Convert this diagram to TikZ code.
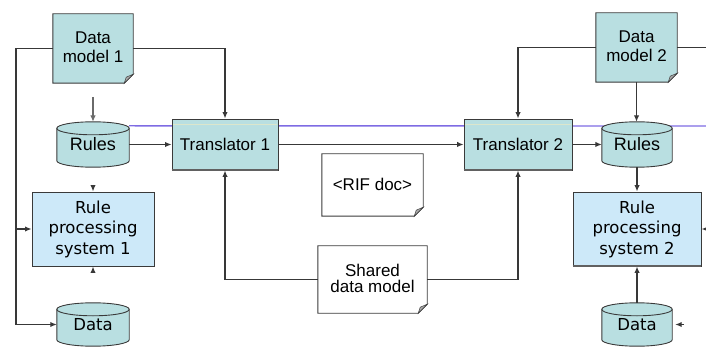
\documentclass[tikz,border=0pt]{standalone}
\usepackage{fontspec}
\setmainfont{Liberation Sans}
\newfontfamily\vfont{DejaVu Sans}
\usetikzlibrary{arrows.meta,backgrounds,calc}
\definecolor{tealbox}{HTML}{B9DFE1}
\definecolor{bluebox}{HTML}{CDE9F9}
\definecolor{edgec}{HTML}{3A3A3A}
\definecolor{wire}{HTML}{383838}
\definecolor{purp}{HTML}{7E6BE3}
\definecolor{foldc}{HTML}{A8A8A8}
\definecolor{paleline}{HTML}{DCE6CC}
\tikzset{
  wirestyle/.style={draw=wire, line width=1.7pt},
  arr/.style={wirestyle, -{Latex[length=6.5pt,width=5.5pt]}},
  lightarr/.style={draw=wire!75, line width=1.2pt, -{Latex[length=6.5pt,width=5.5pt]}},
  afont/.style={font=\fontsize{17}{21}\selectfont},
  vfontst/.style={font=\vfont\fontsize{16.5}{20.5}\selectfont},
  trbox/.style={rectangle, draw=edgec, line width=0.9pt, fill=tealbox, align=center, inner sep=0pt, afont},
  rpsbox/.style={rectangle, draw=edgec, line width=0.9pt, fill=bluebox, align=center, inner sep=0pt, vfontst},
  plain/.style={rectangle, draw=none, fill=none, align=center, inner sep=0pt},
  purpline/.style={draw=purp, line width=1.4pt},
  faint/.style={draw=paleline, line width=1pt},
  shadowedge/.style={draw=edgec!80, line width=2pt}
}
\newcommand\docshape[2]{%
  \path[draw=edgec,line width=0.9pt,fill=#2] (#1.north west) -- (#1.north east) -- ([yshift=9pt]#1.south east) -- ([xshift=-9pt]#1.south east) -- (#1.south west) -- cycle;
  \path[draw=edgec,line width=0.5pt,fill=foldc] ([yshift=9pt]#1.south east) -- ([xshift=-9pt]#1.south east) -- ([xshift=-7pt,yshift=6pt]#1.south east) -- cycle;}
\newcommand\cylshape[1]{%
  \path[draw=edgec,line width=0.9pt,fill=tealbox] let \p1=(#1.north west), \p2=(#1.south east), \n1={(\x2-\x1)/2} in
    (\x1,\y1-6.5pt) -- (\x1,\y2+6.5pt) arc[start angle=180,end angle=360,x radius=\n1,y radius=6.5pt]
    -- (\x2,\y1-6.5pt) arc[start angle=0,end angle=180,x radius=\n1,y radius=6.5pt] -- cycle;
  \path[draw=edgec,line width=0.9pt] let \p1=(#1.north west), \p2=(#1.south east), \n1={(\x2-\x1)/2} in
    (\x1,\y1-6.5pt) arc[start angle=180,end angle=360,x radius=\n1,y radius=6.5pt];}
\begin{document}
\begin{tikzpicture}[x=1pt,y=-1pt]
\useasboundingbox (0,0) rectangle (706,347);
% document-like nodes
\node[plain, afont, minimum width=80pt, minimum height=69pt] (dm1) at (93,48.5) {\raisebox{3pt}{\shortstack{Data\\[4pt]model 1}}};
\node[plain, afont, minimum width=81pt, minimum height=69pt] (dm2) at (636.5,47.5) {\raisebox{3pt}{\shortstack{Data\\[4pt]model 2}}};
\node[plain, afont, minimum width=101pt, minimum height=62pt] (rif) at (372.5,185) {\raisebox{2pt}{<RIF doc>}};
\node[plain, afont, minimum width=109pt, minimum height=67pt] (shared) at (372.5,279.5) {\raisebox{2pt}{\shortstack{Shared\\[1pt]data model}}};
% cylinders
\node[plain, font=\fontsize{18}{21}\selectfont, minimum width=72pt, minimum height=45pt] (rules1) at (93,144.5) {\raisebox{-3pt}{Rules}};
\node[plain, font=\fontsize{18}{21}\selectfont, minimum width=70pt, minimum height=45pt] (rules2) at (637,144.5) {\raisebox{-3pt}{Rules}};
\node[plain, vfontst, minimum width=72pt, minimum height=43pt] (data1) at (93,324.5) {\raisebox{-5pt}{Data}};
\node[plain, vfontst, minimum width=70pt, minimum height=43pt] (data2) at (637,324.5) {\raisebox{-5pt}{Data}};
% boxes
\node[trbox, minimum width=106pt, minimum height=51pt] (tr1) at (225,144.5) {Translator 1};
\node[trbox, minimum width=108pt, minimum height=51pt] (tr2) at (518,144.5) {Translator 2};
\node[rpsbox, minimum width=122pt, minimum height=74pt] (rps1) at (93,229) {Rule\\processing\\system 1};
\node[rpsbox, minimum width=128pt, minimum height=74pt] (rps2) at (637,229) {Rule\\processing\\system 2};
% faint line through translators and shadow edges
\draw[faint] ([xshift=1pt,yshift=-6pt]tr1.north west) -- ([xshift=-1pt,yshift=-6pt]tr1.north east);
\draw[faint] ([xshift=1pt,yshift=-6pt]tr2.north west) -- ([xshift=-1pt,yshift=-6pt]tr2.north east);
\draw[shadowedge] (tr1.south west) -- (tr1.south east);
\draw[shadowedge] (tr2.south west) -- (tr2.south east);
\draw[shadowedge] (rps2.south west) -- (rps2.south east);
% background shapes
\begin{scope}[on background layer]
  \coordinate (pend) at (706,126);
  \draw[purpline] ($(rules1.north east)+(0,4)$) -- (pend);
  \docshape{dm1}{tealbox}
  \docshape{dm2}{tealbox}
  \docshape{rif}{white}
  \docshape{shared}{white}
  \cylshape{rules1}
  \cylshape{rules2}
  \cylshape{data1}
  \cylshape{data2}
\end{scope}
% connectors
\coordinate (lt) at (16,50);
\coordinate (lb) at (16,324.5);
\draw[arr] (dm1.west) -- (dm1.west -| lt) -- (lb) -- (data1.west);
\draw[arr] (rps1.west -| lt) -- (rps1.west);
\draw[arr] (dm1.east) -| (tr1.north);
\coordinate (r1in) at (93,97);
\draw[lightarr] (r1in) -- (rules1.north);
\draw[arr] (rules1.east) -- (tr1.west);
\draw[arr] (tr1.east) -- (tr2.west);
\draw[arr] (tr2.east) -- (rules2.west);
\draw[arr] (dm2.west) -| (tr2.north);
\coordinate (dm2r) at (706,47.5);
\draw[wirestyle] (dm2.east) -- (dm2r);
\draw[arr] (dm2.south) -- (dm2.south |- rules2.north);
\draw[arr] (rules2.south) -- (rps2.north);
\draw[arr] (data2.north) -- (rps2.south);
\coordinate (rps2r) at (706,229);
\draw[arr] (rps2r) -- (rps2.east);
\coordinate (d2r) at (684,324.5);
\draw[arr] (d2r) -- ([xshift=3pt]data2.east);
\coordinate (rps1t) at (93,185);
\draw[arr] (rps1t) -- (rps1.north);
\coordinate (rps1b) at (93,273);
\draw[arr] (rps1b) -- (rps1.south);
\draw[arr] (shared.west) -| (tr1.south);
\draw[arr] (shared.east) -| (tr2.south);
\end{tikzpicture}
\end{document}
